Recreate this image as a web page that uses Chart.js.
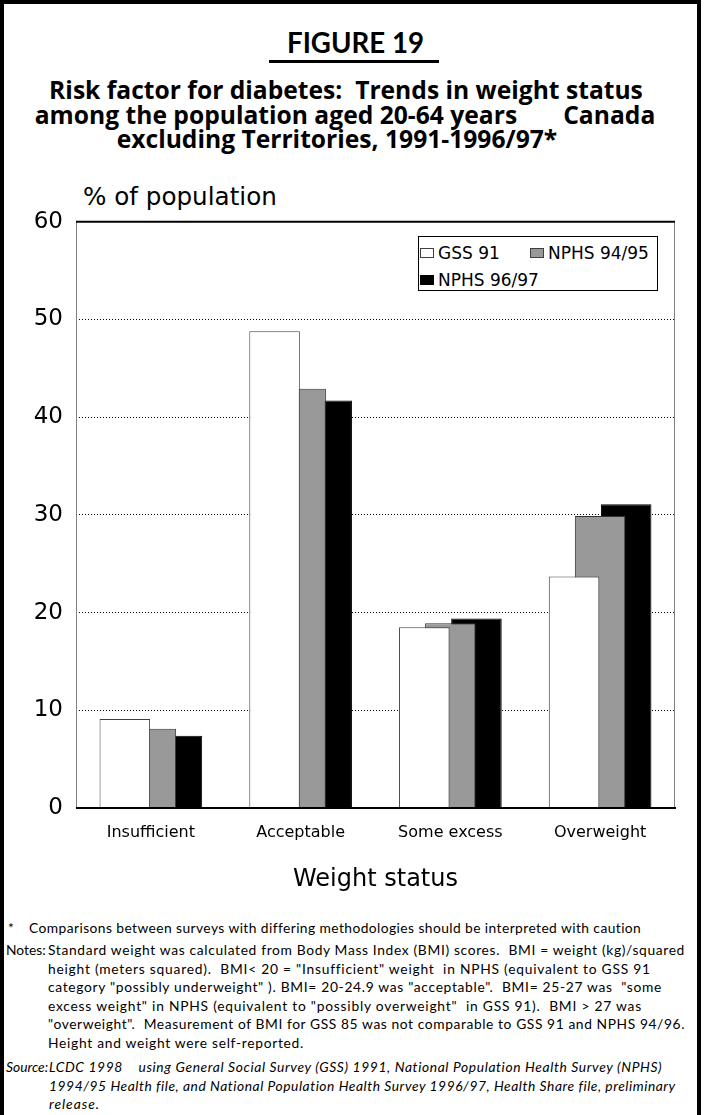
<!DOCTYPE html>
<html>
<head>
<meta charset="utf-8">
<title>Figure 19 – Weight status, Canada 1991–1996/97</title>
<script src="https://cdn.jsdelivr.net/npm/chart.js@4.4.1/dist/chart.umd.min.js"></script>
<style>
  html, body { margin: 0; padding: 0; background: #fff; }
  #page { position: relative; width: 704px; height: 1115px; overflow: hidden; background: #fff; color: #000; }
  #frame { position: absolute; left: 0; top: 0; width: 693px; height: 1140px; border: 4px solid #000; border-bottom: none; }
  .t { position: absolute; left: 0; top: 0; white-space: pre; line-height: 1; }
  .head { font-family: Lato, "Noto Sans", sans-serif; font-weight: 700; }
  .title { font-family: "Open Sans", "Noto Sans", sans-serif; font-weight: 700; }
  .note { font-family: Lato, "Noto Sans", sans-serif; font-size: 13.8px; }
  .src { font-style: italic; }
  .axis { font-family: "DejaVu Sans", sans-serif; font-size: 24px; }
  #rule { position: absolute; left: 269px; top: 60px; width: 170px; height: 3px; background: #000; }
  #chartBox { position: absolute; left: 0; top: 195px; width: 704px; height: 710px; }
  #legend { position: absolute; left: 418px; top: 236px; width: 238px; height: 53px; border: 1px solid #000; background: #fff;
            font-family: "DejaVu Sans", sans-serif; font-size: 17px; }
  .item { position: absolute; height: 20px; display: flex; align-items: center; white-space: pre; }
  .sw { box-sizing: border-box; width: 14px; height: 10px; margin-right: 4px; }
</style>
</head>
<body>
<div id="page">
  <div id="frame"></div>

  <div class="t head" id="fig" style="font-size:26px">FIGURE 19</div>
  <div id="rule"></div>
  <div class="t title" id="t1" style="font-size:20px">Risk factor for diabetes:  Trends in weight status</div>
  <div class="t title" id="t2" style="font-size:20px"><span>among the population aged 20-64 years</span><span style="margin-left:46px">Canada</span></div>
  <div class="t title" id="t3" style="font-size:20px">excluding Territories, 1991-1996/97*</div>

  <div class="t axis" id="ylab">% of population</div>

  <div id="chartBox"><canvas id="chart" width="704" height="710"></canvas></div>
  <div id="legend"></div>

  <div class="t note" id="star">*</div>
  <div class="t note" id="c1">Comparisons between surveys with differing methodologies should be interpreted with caution</div>
  <div class="t note" id="notesLbl">Notes:</div>
  <div class="t note" id="n1">Standard weight was calculated from Body Mass Index (BMI) scores.  BMI = weight (kg)/squared</div>
  <div class="t note" id="n2">height (meters squared).  BMI&lt; 20 = "Insufficient" weight  in NPHS (equivalent to GSS 91</div>
  <div class="t note" id="n3">category "possibly underweight" ). BMI= 20-24.9 was "acceptable".  BMI= 25-27 was  "some</div>
  <div class="t note" id="n4">excess weight" in NPHS (equivalent to "possibly overweight"  in GSS 91).  BMI &gt; 27 was</div>
  <div class="t note" id="n5">"overweight".  Measurement of BMI for GSS 85 was not comparable to GSS 91 and NPHS 94/96.</div>
  <div class="t note" id="n6">Height and weight were self-reported.</div>
  <div class="t note src" id="srcLbl">Source:</div>
  <div class="t note src" id="s1">LCDC 1998    using General Social Survey (GSS) 1991, National Population Health Survey (NPHS)</div>
  <div class="t note src" id="s2">1994/95 Health file, and National Population Health Survey 1996/97, Health Share file, preliminary</div>
  <div class="t note src" id="s3">release.</div>
</div>

<script>
// ---- data ----------------------------------------------------------------
const categories = ['Insufficient', 'Acceptable', 'Some excess', 'Overweight'];
const seriesNames = ['GSS 91', 'NPHS 94/95', 'NPHS 96/97'];
const gss91     = [9.1, 48.8, 18.5, 23.7];
const nphs9495  = [8.1, 42.9, 18.9, 29.9];
const nphs9697  = [7.4, 41.7, 19.4, 31.1];
const yTicks    = [0, 10, 20, 30, 40, 50, 60];

// ---- styles --------------------------------------------------------------
const seriesValues = [gss91, nphs9495, nphs9697];
const fills = ['#ffffff', '#999999', '#000000'];
const edges = ['#404040', '#333333', '#000000'];

// ---- text placement helpers --------------------------------------------
function baselineOffset(el) {
  const m = document.createElement('span');
  m.style.cssText = 'display:inline-block;width:0;height:0;vertical-align:baseline';
  el.appendChild(m);
  const off = m.getBoundingClientRect().top - el.getBoundingClientRect().top;
  el.removeChild(m);
  return off;
}
function fitSize(id, targetW) {
  const el = document.getElementById(id);
  const w = el.getBoundingClientRect().width;
  return parseFloat(getComputedStyle(el).fontSize) * targetW / w;
}
function setSize(ids, fs) { ids.forEach(id => document.getElementById(id).style.fontSize = fs + 'px'); }
// set letter spacing on one line so that it spans targetW
function fitSpacing(id, targetW) {
  const el = document.getElementById(id);
  const w = el.getBoundingClientRect().width;
  el.style.letterSpacing = ((targetW - w) / el.textContent.length) + 'px';
}
function place(id, align, x, baseline) {
  const el = document.getElementById(id);
  const w = el.getBoundingClientRect().width;
  const left = align === 'center' ? x - w / 2 : x;
  el.style.left = left + 'px';
  el.style.top = (baseline - baselineOffset(el)) + 'px';
}

function layoutText() {
  setSize(['fig'], fitSize('fig', 137));
  setSize(['t1', 't2', 't3'], fitSize('t1', 594));
  setSize(['ylab'], fitSize('ylab', 194));

  // line measures for the footnote block
  [['c1', 612], ['n1', 637], ['n2', 602], ['n3', 614], ['n4', 594], ['n5', 637], ['n6', 256],
   ['s1', 613], ['s2', 626], ['s3', 51]].forEach(([id, w]) => fitSpacing(id, w));

  place('fig', 'center', 355.5, 53);
  place('t1', 'center', 346, 99);
  place('t2', 'center', 345, 123.5);
  place('t3', 'center', 337, 148);
  place('ylab', 'left', 83, 205);

  place('star', 'left', 8, 933);
  place('c1', 'left', 29, 933);
  place('notesLbl', 'left', 6, 955);
  ['n1', 'n2', 'n3', 'n4', 'n5', 'n6'].forEach((id, i) => place(id, 'left', 48, 955 + i * 18.5));
  place('srcLbl', 'left', 6, 1072);
  ['s1', 's2', 's3'].forEach((id, i) => place(id, 'left', 49, 1072 + i * 18.5));
}

// ---- legend ------------------------------------------------------------
function buildLegend() {
  const box = document.getElementById('legend');
  const slots = [[1, 6], [111, 6], [1, 33]];
  seriesNames.forEach((name, i) => {
    const item = document.createElement('div');
    item.className = 'item';
    item.style.left = slots[i][0] + 'px';
    item.style.top = slots[i][1] + 'px';
    const sw = document.createElement('span');
    sw.className = 'sw';
    sw.style.background = fills[i];
    sw.style.border = '1px solid ' + (i === 2 ? '#000' : '#404040');
    item.appendChild(sw);
    item.appendChild(document.createTextNode(name));
    box.appendChild(item);
  });
}

// ---- plot frame: thin grey sides, heavy black top and base -------------
const plotFrame = {
  id: 'plotFrame',
  afterDatasetsDraw(chart) {
    const { ctx, chartArea: { left, right, top, bottom } } = chart;
    ctx.save();
    ctx.strokeStyle = '#808080';
    ctx.lineWidth = 1;
    ctx.beginPath();
    ctx.moveTo(left + 0.5, top); ctx.lineTo(left + 0.5, bottom);
    ctx.moveTo(right - 0.5, top); ctx.lineTo(right - 0.5, bottom);
    ctx.stroke();
    ctx.strokeStyle = '#000';
    ctx.lineWidth = 2;
    ctx.beginPath();
    ctx.moveTo(left, top); ctx.lineTo(right, top);
    ctx.moveTo(left, bottom); ctx.lineTo(right + 1, bottom);
    ctx.stroke();
    ctx.restore();
  }
};

function buildChart() {
  new Chart(document.getElementById('chart'), {
    type: 'bar',
    data: {
      labels: categories,
      datasets: seriesNames.map((name, i) => ({
        label: name,
        data: seriesValues[i],
        backgroundColor: fills[i],
        borderColor: edges[i],
        borderWidth: 1,
        categoryPercentage: 0.522,
        barPercentage: 1.94
      }))
    },
    options: {
      responsive: false,
      animation: false,
      devicePixelRatio: 1,
      layout: { padding: { left: 0, right: 29, top: 20, bottom: 0 } },
      plugins: { legend: { display: false }, tooltip: { enabled: false } },
      scales: {
        x: {
          grid: { display: false, drawTicks: false },
          border: { display: false },
          ticks: { color: '#000', padding: 15, font: { family: 'DejaVu Sans', size: 16 } },
          title: {
            display: true, text: 'Weight status', color: '#000',
            font: { family: 'DejaVu Sans', size: 24 }, padding: { top: 0, bottom: 11 }
          },
          afterFit: s => { s.height = 97; }
        },
        y: {
          min: 0, max: 60,
          afterBuildTicks: s => { s.ticks = yTicks.map(v => ({ value: v })); },
          grid: {
            drawTicks: false, lineWidth: 1,
            color: c => (c.tick && (c.tick.value === 0 || c.tick.value === 60)) ? 'rgba(0,0,0,0)' : '#000'
          },
          border: { display: false, dash: [1, 2] },
          ticks: { color: '#000', padding: 13, font: { family: 'DejaVu Sans', size: 23 } },
          afterFit: s => { s.width = 76; }
        }
      }
    },
    plugins: [plotFrame]
  });
}

buildLegend();
buildChart();
layoutText();
</script>
</body>
</html>
